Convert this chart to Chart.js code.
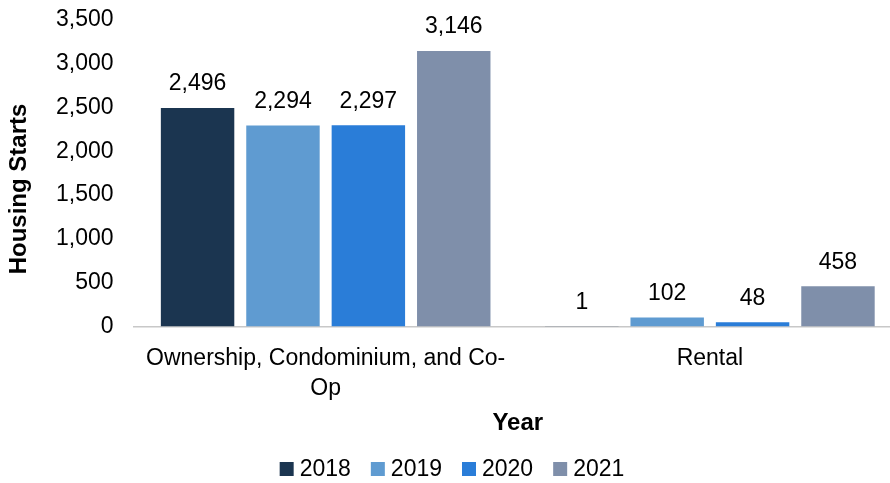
<!DOCTYPE html>
<html>
<head>
<meta charset="utf-8">
<script src="https://cdn.jsdelivr.net/npm/chart.js@4"></script>
<style>
    html, body { margin: 0; padding: 0; background: #fff; overflow: hidden; }
    #wrap { width: 902px; height: 483px; }
</style>
</head>
<body>
<div id="wrap"><canvas id="chart"></canvas></div>
<script>
// Chart data
const categories = [['Ownership, Condominium, and Co-', 'Op'], 'Rental'];
const years = ['2018', '2019', '2020', '2021'];
const values2018 = [2496, 1];
const values2019 = [2294, 102];
const values2020 = [2297, 48];
const values2021 = [3146, 458];
const yTicks = [0, 500, 1000, 1500, 2000, 2500, 3000, 3500];
const colors = ['#1b3550', '#5f9bd1', '#2a7dd8', '#7f8faa'];
const yTitle = 'Housing Starts';

const fontFamily = '"Liberation Sans", Arial, sans-serif';
const seriesValues = [values2018, values2019, values2020, values2021];

// Value labels above each bar
const valueLabels = {
    id: 'valueLabels',
    afterDatasetsDraw: function(chart) {
        const ctx = chart.ctx;
        ctx.save();
        ctx.font = '23px ' + fontFamily;
        ctx.fillStyle = '#000';
        ctx.textAlign = 'center';
        ctx.textBaseline = 'middle';
        chart.data.datasets.forEach(function(ds, i) {
            chart.getDatasetMeta(i).data.forEach(function(bar, j) {
                ctx.fillText(ds.data[j].toLocaleString('en-US'), bar.x, bar.y - 24);
            });
        });
        ctx.restore();
    }
};

// Y title and legend drawn by hand so placement matches the original
const extras = {
    id: 'extras',
    afterDraw: function(chart) {
        const ctx = chart.ctx;
        ctx.save();

        // y axis title
        ctx.font = 'bold 24px ' + fontFamily;
        ctx.fillStyle = '#000';
        ctx.textAlign = 'center';
        ctx.textBaseline = 'middle';
        ctx.translate(19, 189);
        ctx.rotate(-Math.PI / 2);
        ctx.fillText(yTitle, 0, 0);
        ctx.setTransform(1, 0, 0, 1, 0, 0);

        // legend
        const box = 14, gap = 6, itemGap = 20, y = 469;
        ctx.font = '23px ' + fontFamily;
        ctx.textAlign = 'left';
        const items = chart.data.datasets.map(function(ds) {
            return { text: ds.label, color: ds.backgroundColor, w: box + gap + ctx.measureText(ds.label).width };
        });
        const total = items.reduce(function(s, it) { return s + it.w; }, 0) + itemGap * (items.length - 1);
        let x = 452 - total / 2;
        items.forEach(function(it) {
            ctx.fillStyle = it.color;
            ctx.fillRect(x, y - box / 2, box, box);
            ctx.fillStyle = '#000';
            ctx.fillText(it.text, x + box + gap, y + 1);
            x += it.w + itemGap;
        });
        ctx.restore();
    }
};

new Chart(document.getElementById('chart'), {
    type: 'bar',
    data: {
        labels: categories,
        datasets: years.map(function(y, i) {
            return {
                label: y,
                data: seriesValues[i],
                backgroundColor: colors[i],
                categoryPercentage: 0.889,
                barPercentage: 0.86
            };
        })
    },
    options: {
        responsive: true,
        maintainAspectRatio: false,
        animation: false,
        layout: { padding: { top: 20, left: 36, right: 0, bottom: 45 } },
        plugins: {
            legend: { display: false },
            tooltip: { enabled: false }
        },
        scales: {
            x: {
                grid: { display: false, drawTicks: false },
                border: { color: '#c8c8c8', width: 1.5 },
                ticks: {
                    font: { size: 23, family: fontFamily, lineHeight: 1.3 },
                    color: '#000',
                    padding: 17,
                    maxRotation: 0
                },
                title: {
                    display: true,
                    text: 'Year',
                    font: { size: 24, weight: 'bold', family: fontFamily },
                    color: '#000',
                    padding: { top: -11, bottom: 0 }
                }
            },
            y: {
                min: 0,
                max: 3500,
                afterBuildTicks: function(axis) {
                    axis.ticks = yTicks.map(function(v) { return { value: v }; });
                },
                afterFit: function(axis) {
                    axis.paddingTop = 14;
                },
                grid: { display: false, drawTicks: false },
                border: { display: false },
                ticks: {
                    font: { size: 23, family: fontFamily },
                    color: '#000',
                    padding: 20,
                    callback: function(v) { return v.toLocaleString('en-US'); }
                }
            }
        }
    },
    plugins: [valueLabels, extras]
});
</script>
</body>
</html>
